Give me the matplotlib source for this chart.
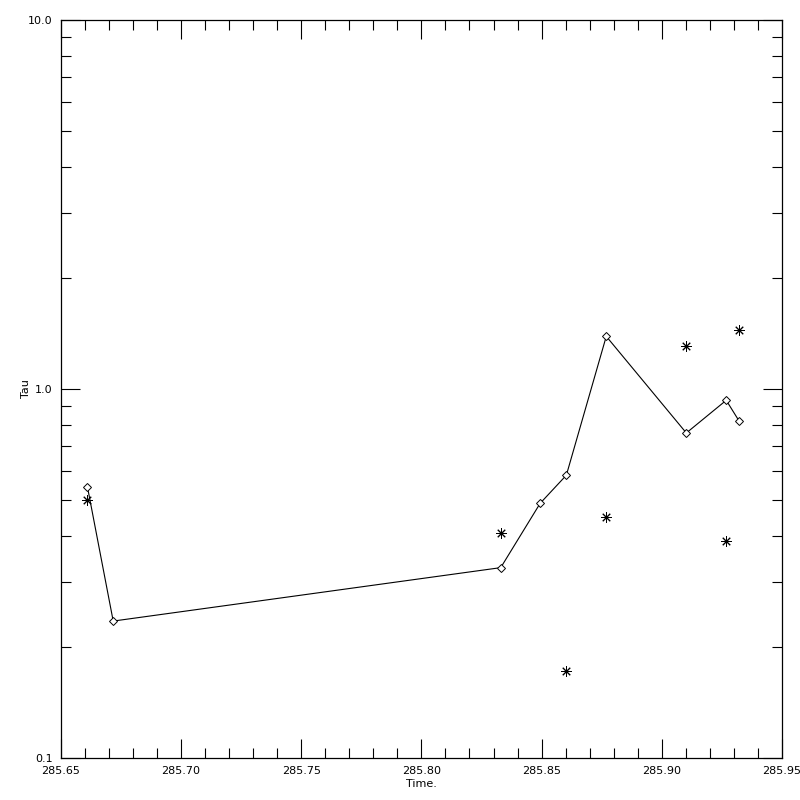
import matplotlib
matplotlib.use("Agg")
import matplotlib.pyplot as plt
from matplotlib.ticker import FixedLocator, LogLocator, NullFormatter, FormatStrFormatter

# Datos
t_linea = [285.6611, 285.6718, 285.8330, 285.8494, 285.8603, 285.8769, 285.9102, 285.9268, 285.9322]
tau_linea = [0.542, 0.235, 0.328, 0.490, 0.584, 1.389, 0.760, 0.932, 0.818]

t_puntos = [285.6611, 285.8330, 285.8603, 285.8769, 285.9102, 285.9268, 285.9322]
tau_puntos = [0.500, 0.406, 0.172, 0.449, 1.308, 0.387, 1.442]

x_ticks = [285.65, 285.70, 285.75, 285.80, 285.85, 285.90, 285.95]

fig = plt.figure(figsize=(8, 8), dpi=100)
ax = fig.add_axes([0.076, 0.0525, 0.9015, 0.9225])

ax.plot(t_linea, tau_linea, color='black', linewidth=0.8,
        marker='D', markersize=4.5, markerfacecolor='white', markeredgecolor='black', markeredgewidth=0.7)
ax.plot(t_puntos, tau_puntos, linestyle='none', color='black',
        marker=(8, 2, 0), markersize=7.5, markeredgewidth=0.7)

ax.set_yscale('log')
ax.set_xlim(285.65, 285.95)
ax.set_ylim(0.1, 10.0)

ax.xaxis.set_major_locator(FixedLocator(x_ticks))
ax.xaxis.set_minor_locator(FixedLocator([285.65 + 0.01 * i for i in range(31)]))
ax.xaxis.set_major_formatter(FormatStrFormatter('%.2f'))

ax.yaxis.set_major_locator(FixedLocator([0.1, 1.0, 10.0]))
ax.yaxis.set_minor_locator(LogLocator(base=10, subs=range(2, 10)))
ax.yaxis.set_major_formatter(FormatStrFormatter('%.1f'))
ax.yaxis.set_minor_formatter(NullFormatter())

ax.tick_params(which='both', direction='in', top=True, right=True, width=0.8, labelsize=8)
ax.tick_params(which='major', length=14, pad=6)
ax.tick_params(which='minor', length=7)

for s in ax.spines.values():
    s.set_linewidth(0.9)

ax.set_xlabel('Time.', fontsize=8, labelpad=2)
ax.set_ylabel('Tau', fontsize=8, labelpad=-2)

plt.savefig('out.png', dpi=100)
